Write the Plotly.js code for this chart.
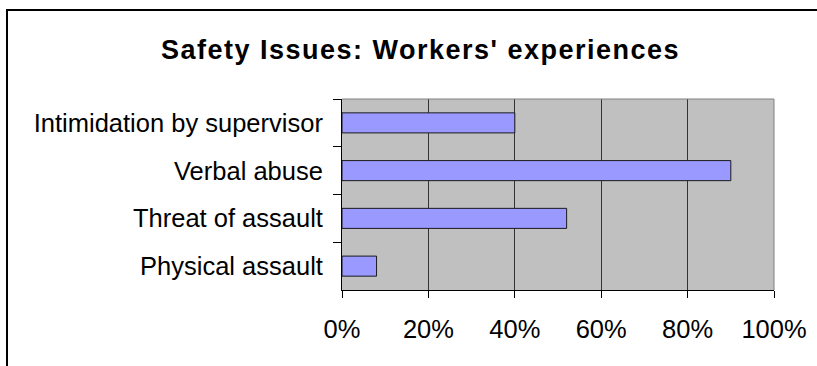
<!DOCTYPE html>
<html>
<head>
<meta charset="utf-8">
<script src="https://cdn.plot.ly/plotly-3.0.1.min.js"></script>
<style>
  html, body { margin: 0; padding: 0; background: #fff; }
  #wrap { position: relative; width: 817px; height: 366px; overflow: hidden; }
  #chart { position: absolute; left: 0; top: 0; width: 817px; height: 366px; }
  #frame { position: absolute; left: 6px; top: 9px; width: 830px; height: 400px;
           border-left: 2px solid #000; border-top: 2px solid #000; pointer-events: none; }
  .gtitle { letter-spacing: 1.5px; }
</style>
</head>
<body>
<div id="wrap">
  <div id="chart"></div>
  <div id="frame"></div>
</div>
<script>
const chartTitle = "Safety Issues: Workers' experiences";
const categories = ["Intimidation by supervisor", "Verbal abuse", "Threat of assault", "Physical assault"];
const values = [0.40, 0.90, 0.52, 0.08];
const xTickVals = [0, 0.2, 0.4, 0.6, 0.8, 1.0];
const xTickText = ["0%", "20%", "40%", "60%", "80%", "100%"];

const font = "Liberation Sans, Arial, sans-serif";

const trace = {
  type: "bar",
  orientation: "h",
  x: values,
  y: categories,
  width: 0.42,
  marker: { color: "#9999FF", line: { color: "#1a1a1a", width: 1 } },
  hoverinfo: "none"
};

const layout = {
  width: 817,
  height: 366,
  margin: { l: 342, r: 43, t: 99, b: 76 },
  paper_bgcolor: "#ffffff",
  plot_bgcolor: "#C0C0C0",
  showlegend: false,
  title: {
    text: "<b>" + chartTitle + "</b>",
    font: { family: font, size: 27, color: "#000" },
    x: 0.5147, xref: "container", xanchor: "center",
    y: 44, yref: "container", yanchor: "middle"
  },
  xaxis: {
    range: [0, 1],
    tickvals: xTickVals,
    ticktext: xTickText,
    ticks: "outside",
    ticklen: 7,
    tickcolor: "#000",
    tickwidth: 1,
    ticklabelstandoff: 9,
    showgrid: true,
    gridcolor: "#333333",
    gridwidth: 1,
    showline: true,
    linecolor: "#000",
    linewidth: 1,
    zeroline: false,
    tickfont: { family: font, size: 25.5, color: "#000" },
    fixedrange: true
  },
  yaxis: {
    type: "category",
    autorange: "reversed",
    ticks: "outside",
    tickson: "boundaries",
    ticklen: 8,
    tickcolor: "#000",
    tickwidth: 1,
    ticklabelstandoff: 13,
    showgrid: false,
    showline: true,
    linecolor: "#000",
    linewidth: 1,
    zeroline: false,
    tickfont: { family: font, size: 25.5, color: "#000" },
    fixedrange: true
  },
  shapes: [
    { type: "line", xref: "paper", yref: "paper", x0: 0, x1: 1, y0: 1, y1: 1,
      line: { color: "#808080", width: 1 }, layer: "above" },
    { type: "line", xref: "paper", yref: "paper", x0: 1, x1: 1, y0: 0, y1: 1,
      line: { color: "#808080", width: 1 }, layer: "above" }
  ],
  bargap: 0.58
};

Plotly.newPlot("chart", [trace], layout, { displayModeBar: false, staticPlot: true });
</script>
</body>
</html>
